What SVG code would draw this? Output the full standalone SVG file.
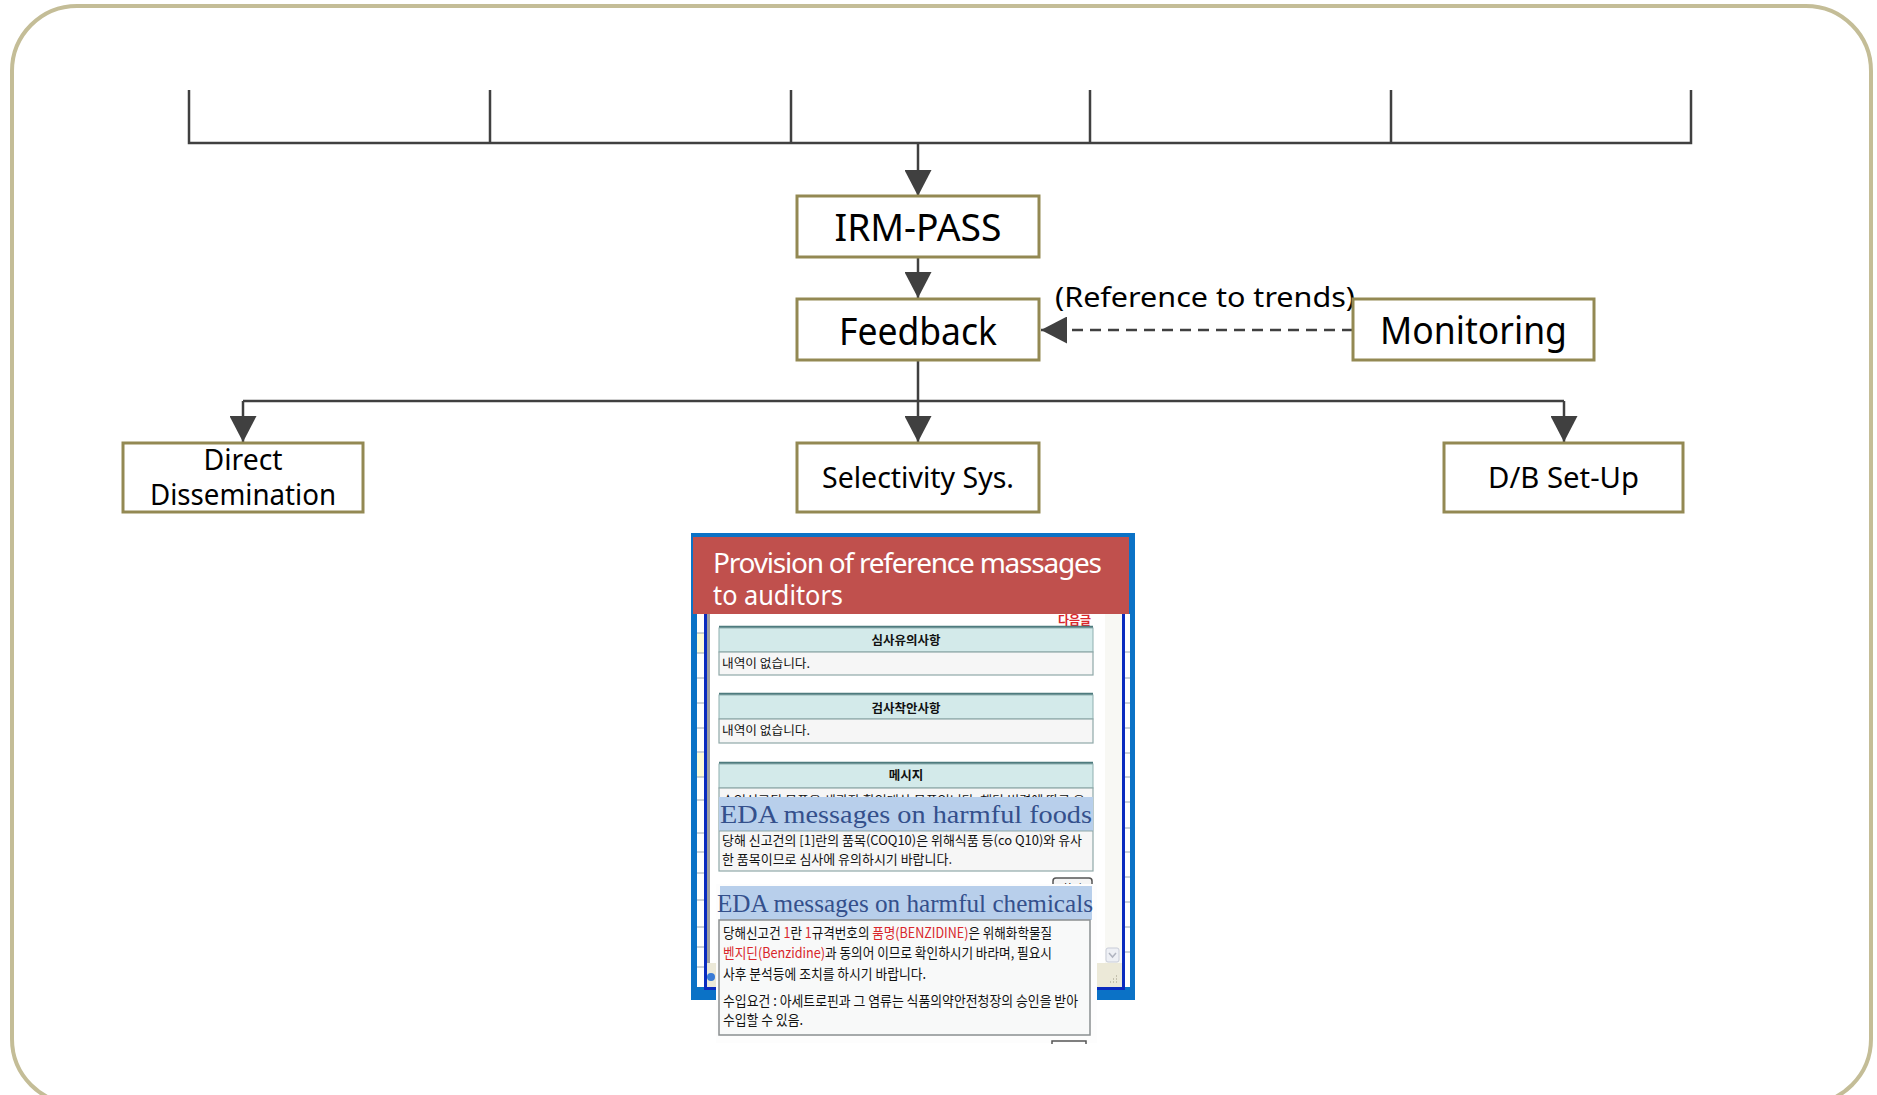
<svg xmlns="http://www.w3.org/2000/svg" width="1877" height="1095" viewBox="0 0 1877 1095">
<style>
.box{fill:#fff;stroke:#938953;stroke-width:3}
.lbl{font-family:"Noto Sans","Open Sans","Liberation Sans",sans-serif;fill:#000;text-anchor:middle}
.conn{fill:none;stroke:#404040;stroke-width:2.5}
.kr{font-family:"Noto Sans CJK KR","Noto Sans",sans-serif;fill:#111}
.krb{font-family:"Noto Sans CJK KR","Noto Sans",sans-serif;fill:#111;font-weight:bold;text-anchor:middle;font-size:12.5px}
.red{fill:#d9262b}
.band{fill:#b8cfeb}
.bandt{font-family:"Liberation Serif","DejaVu Serif",serif;fill:#34508c;font-size:26px}
.hdr{fill:#d3eaea;stroke:#8fb0b0;stroke-width:1}
.row{fill:#f6f6f6;stroke:#8fa8a8;stroke-width:1.2}
.topl{stroke:#4e7b7e;stroke-width:2.5}
.cell{stroke:#9aa4b0;stroke-width:1}
</style>
<defs>
<marker id="arr" viewBox="0 0 26 27" refX="26" refY="13.5" markerWidth="26" markerHeight="27" markerUnits="userSpaceOnUse" orient="auto">
<path d="M0,0 L26,13.5 L0,27 Z" fill="#404040"/>
</marker>
</defs>
<rect x="0" y="0" width="1877" height="1095" fill="#fff"/>
<rect id="frame" x="12" y="6" width="1859" height="1098" rx="65" ry="65" fill="none" stroke="#c4bd97" stroke-width="4"/>

<g id="connectors">
<path class="conn" d="M189,90 V143 H1691 V90 M490,90 V143 M791,90 V143 M1090,90 V143 M1391,90 V143"/>
<path class="conn" d="M918,143 V196" marker-end="url(#arr)"/>
<path class="conn" d="M918,257 V298" marker-end="url(#arr)"/>
<path class="conn" d="M918,360 V401 M243,401 H1564"/>
<path class="conn" d="M243,401 V442" marker-end="url(#arr)"/>
<path class="conn" d="M918,401 V442" marker-end="url(#arr)"/>
<path class="conn" d="M1564,401 V442" marker-end="url(#arr)"/>
<path class="conn" d="M1353,330 H1041" stroke-dasharray="11 7" marker-end="url(#arr)"/>
<text class="lbl" x="1205" y="307" font-size="28" textLength="300" lengthAdjust="spacingAndGlyphs">(Reference to trends)</text>
</g>

<g id="irm-pass">
<rect class="box" x="797" y="196" width="242" height="61"/>
<text class="lbl" x="918" y="241" font-size="38" textLength="167" lengthAdjust="spacingAndGlyphs">IRM-PASS</text>
</g>
<g id="feedback">
<rect class="box" x="797" y="299" width="242" height="61"/>
<text class="lbl" x="918" y="345" font-size="38" textLength="158" lengthAdjust="spacingAndGlyphs">Feedback</text>
</g>
<g id="monitoring">
<rect class="box" x="1353" y="299" width="241" height="61"/>
<text class="lbl" x="1473.5" y="344" font-size="38" textLength="187" lengthAdjust="spacingAndGlyphs">Monitoring</text>
</g>
<g id="direct-dissemination">
<rect class="box" x="123" y="443" width="240" height="69"/>
<text class="lbl" x="243" y="470" font-size="29" textLength="79" lengthAdjust="spacingAndGlyphs">Direct</text>
<text class="lbl" x="243" y="505" font-size="29" textLength="186" lengthAdjust="spacingAndGlyphs">Dissemination</text>
</g>
<g id="selectivity">
<rect class="box" x="797" y="443" width="242" height="69"/>
<text class="lbl" x="918" y="488" font-size="29" textLength="192" lengthAdjust="spacingAndGlyphs">Selectivity Sys.</text>
</g>
<g id="db-setup">
<rect class="box" x="1444" y="443" width="239" height="69"/>
<text class="lbl" x="1563.5" y="488" font-size="29" textLength="151" lengthAdjust="spacingAndGlyphs">D/B Set-Up</text>
</g>

<g id="screenshot">
<rect x="691" y="533" width="444" height="467" fill="#0b72c6"/>
<!-- left cell strip -->
<rect x="697" y="614" width="7" height="373" fill="#fff"/>
<rect x="697" y="633" width="7" height="20" fill="#fffbd8"/>
<rect x="697" y="753" width="7" height="24" fill="#fffbd8"/>
<path class="cell" d="M697,633 H704 M697,653 H704 M697,678 H704 M697,703 H704 M697,728 H704 M697,752 H704 M697,777 H704 M697,800 H704 M697,833 H704 M697,852 H704 M697,873 H704 M697,900 H704 M697,927 H704 M697,947 H704 M697,967 H704"/>
<!-- right cell strip -->
<rect x="1125" y="614" width="5" height="373" fill="#fff"/>
<path class="cell" d="M1125,652 H1130 M1125,678 H1130 M1125,703 H1130 M1125,728 H1130 M1125,753 H1130 M1125,777 H1130 M1125,802 H1130 M1125,828 H1130 M1125,852 H1130 M1125,877 H1130 M1125,902 H1130 M1125,927 H1130 M1125,952 H1130"/>
<!-- inner window -->
<rect x="704" y="610" width="421" height="380" fill="#0a2bbf"/>
<rect x="707" y="610" width="3" height="353" fill="#a0a0a0"/>
<rect x="710" y="610" width="395" height="353" fill="#fff"/>
<rect x="1105" y="610" width="17" height="353" fill="#f8f8f4"/>
<rect x="1106" y="948" width="13" height="14" rx="2" fill="#eef0f5" stroke="#c8ccd8" stroke-width="1"/>
<path d="M1109,953 L1112.5,957 L1116,953" fill="none" stroke="#b0b4c0" stroke-width="1.5"/>
<rect x="707" y="963" width="415" height="24" fill="#ece9d8"/>
<circle cx="711" cy="977" r="4" fill="#3a7bd5"/>
<path d="M1110,982 h1 M1113,982 h1 M1116,982 h1 M1113,979 h1 M1116,979 h1 M1116,976 h1" stroke="#b8b4a0" stroke-width="1.5"/>

<text class="kr red" x="1058" y="625" font-size="12" font-weight="bold">다음글</text>

<!-- table 1 -->
<line class="topl" x1="719" y1="627" x2="1093" y2="627"/>
<rect class="hdr" x="719" y="628" width="374" height="24"/>
<text class="krb" x="906" y="645">심사유의사항</text>
<rect class="row" x="719" y="652" width="374" height="23"/>
<text class="kr" x="722" y="668" font-size="12" textLength="88" lengthAdjust="spacingAndGlyphs">내역이 없습니다.</text>
<!-- table 2 -->
<line class="topl" x1="719" y1="694" x2="1093" y2="694"/>
<rect class="hdr" x="719" y="695" width="374" height="24"/>
<text class="krb" x="906" y="713">검사착안사항</text>
<rect class="row" x="719" y="719" width="374" height="24"/>
<text class="kr" x="722" y="735" font-size="12" textLength="88" lengthAdjust="spacingAndGlyphs">내역이 없습니다.</text>
<!-- table 3 -->
<line class="topl" x1="719" y1="763" x2="1093" y2="763"/>
<rect class="hdr" x="719" y="764" width="374" height="24"/>
<text class="krb" x="906" y="780">메시지</text>
<rect class="row" x="719" y="788" width="374" height="83"/>
<text class="kr" x="722" y="805" font-size="12.5" textLength="363" lengthAdjust="spacingAndGlyphs">수입신고된 물품은 세관장 확인대상 물품입니다. 해당 법령에 따른 요</text>
<rect class="band" x="719" y="797" width="374" height="34"/>
<text class="bandt" x="720" y="823" textLength="372" lengthAdjust="spacingAndGlyphs">EDA messages on harmful foods</text>
<line x1="719" y1="831" x2="1093" y2="831" stroke="#8fa8a8" stroke-width="1"/>
<text class="kr" x="722" y="845" font-size="13" textLength="360" lengthAdjust="spacingAndGlyphs">당해 신고건의 [1]란의 품목(COQ10)은 위해식품 등(co Q10)와 유사</text>
<text class="kr" x="722" y="864" font-size="13" textLength="230" lengthAdjust="spacingAndGlyphs">한 품목이므로 심사에 유의하시기 바랍니다.</text>
<rect x="1053" y="878" width="39" height="20" rx="3" fill="#f4f4f4" stroke="#555" stroke-width="1.5"/>
<text class="kr" x="1072" y="893" font-size="11" text-anchor="middle">확인</text>

<!-- popup -->
<rect x="716" y="884" width="381" height="159" fill="#fdfdfd"/>
<rect class="band" x="720" y="886" width="372" height="34"/>
<text class="bandt" x="717" y="912" textLength="376" lengthAdjust="spacingAndGlyphs">EDA messages on harmful chemicals</text>
<rect x="719" y="920" width="371" height="115" fill="#f8f9f9" stroke="#8a8f90" stroke-width="1.5"/>
<text class="kr" x="723" y="938" font-size="14" textLength="329" lengthAdjust="spacingAndGlyphs">당해신고건 <tspan class="red">1</tspan>란 <tspan class="red">1</tspan>규격번호의 <tspan class="red">품명(BENZIDINE)</tspan>은 위해화학물질</text>
<text class="kr" x="723" y="958" font-size="14" textLength="329" lengthAdjust="spacingAndGlyphs"><tspan class="red">벤지딘(Benzidine)</tspan>과 동의어 이므로 확인하시기 바라며, 필요시</text>
<text class="kr" x="723" y="979" font-size="14" textLength="203" lengthAdjust="spacingAndGlyphs">사후 분석등에 조치를 하시기 바랍니다.</text>
<text class="kr" x="723" y="1006" font-size="14" textLength="355" lengthAdjust="spacingAndGlyphs">수입요건 : 아세트로핀과 그 염류는 식품의약안전청장의 승인을 받아</text>
<text class="kr" x="723" y="1025" font-size="14" textLength="80" lengthAdjust="spacingAndGlyphs">수입할 수 있음.</text>
<path d="M1052,1044 V1041 H1086 V1044" fill="none" stroke="#555" stroke-width="1.5"/>

<!-- red banner -->
<rect x="693" y="537" width="436" height="77" fill="#c0504d"/>
<text x="713" y="573" font-family="'Noto Sans','Open Sans',sans-serif" font-size="28" fill="#fff" textLength="389" lengthAdjust="spacing">Provision of reference massages</text>
<text x="713" y="605" font-family="'Noto Sans','Open Sans',sans-serif" font-size="28" fill="#fff" textLength="130" lengthAdjust="spacingAndGlyphs">to auditors</text>
</g>
</svg>
